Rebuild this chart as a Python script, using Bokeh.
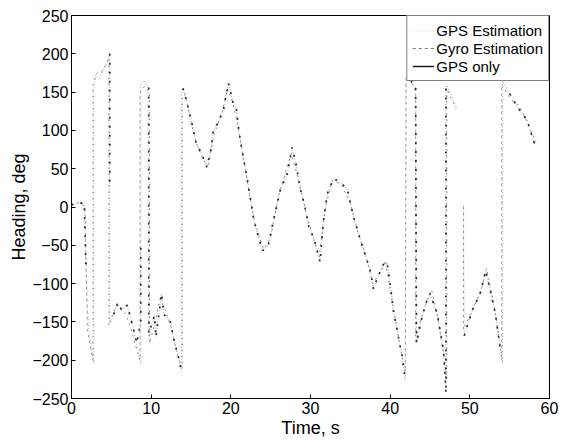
from bokeh.plotting import figure
from bokeh.models import FixedTicker, Legend, LegendItem
from bokeh.embed import file_html
from bokeh.resources import INLINE

nan = float("nan")

# ---- data ----
# GPS Estimation (light gray)
est_t = [0, 0.8, 1.6, 1.8, 2.0, 2.3, 2.8, 2.8, 3.0, 3.5, 4.0, 4.4, 4.8, 4.8, 5.3, 5.8, 6.3, 7.0, 7.6, 8.2, 8.7,
         8.7, 9.1, 9.6, 9.7, 10.4, 10.6, 11.3, 11.6, 12.4, 12.9, 13.4, 13.8, 13.8, 14.0, 14.4, 15.0, 15.6, 16.3,
         17.0, 17.5, 17.8, 18.4, 19.1, 19.7, 20.3, 20.7, 21.0, 21.4, 22.0, 22.5, 22.9, 23.5, 24.0, 24.7, 25.3,
         26.2, 27.1, 27.7, 28.2, 28.7, 29.3, 29.8, 30.4, 30.9, 31.2, 31.6, 32.1, 32.6, 32.9, 33.6, 34.6, 35.4,
         36.3, 37.1, 37.6, 37.9, 38.5, 39.2, 39.6, 40.0, 40.4, 41.0, 41.5, 41.9, 42.0, 42.5, 43.2, 43.3, 44.0,
         44.5, 45.0, 45.9, 46.7, 47.0, 47.0, 47.6, 48.3, nan, 49.2, 49.3, 50.3, 51.3, 52.0, 53.2, 53.9, 54.1,
         54.1, 55.0, 56.0, 56.6, 57.2, 58.2]
est_v = [3, 5, 5, -70, -135, -170, -205, 155, 172, 168, 180, 186, 200, -150, -140, -125, -135, -128, -152, -178, -205,
         160, 165, 155, -172, -142, -170, -113, -140, -150, -175, -195, -215, 150, 155, 140, 115, 85, 70,
         52, 75, 100, 110, 128, 162, 135, 128, 100, 74, 40, 8, -18, -40, -57, -50, -20,
         22, 44, 78, 55, 25, 0, -27, -40, -60, -72, -20, 17, 30, 37, 33, 24, -13,
         -44, -70, -87, -107, -90, -74, -72, -100, -135, -168, -195, -226, 172, 165, 156, -178, -144,
         -125, -113, -139, -187, -230, 161, 148, 126, nan, 2, -168, -135, -113, -83, -139, -191, -205,
         165, 148, 130, 122, 113, 80]

# Gyro Estimation (mid gray, dashed)
gyro_t = [0, 1.0, 1.7, 2.0, 2.5, 2.7, 2.7, 3.2, 3.8, 4.5, 4.7, 4.7, 5.5, 6.0, 6.8, 7.5, 8.3, 8.6, 8.6, 9.2, 9.8,
          9.8, 10.5, 11.1, 11.8, 12.6, 13.2, 13.9, 13.9, 14.3, 15.0, 15.8, 16.6, 17.2, 17.9, 18.8, 19.5, 20.0,
          20.6, 21.5, 22.2, 23.0, 24.1, 25.0, 26.0, 27.0, 27.6, 28.5, 29.5, 30.5, 31.1, 31.8, 32.7, 33.8, 35.0,
          36.0, 37.0, 37.8, 38.8, 39.4, 40.2, 41.2, 41.9, 42.0, 42.8, 43.2, 43.2, 44.2, 45.2, 46.0, 46.8, 47.1,
          47.1, 47.8, 48.4, nan, 49.2, 49.2, 50.5, 51.5, 52.1, 53.0, 53.8, 54.0, 54.0, 55.2, 56.2, 57.0, 58.3]
gyro_v = [2, 6, 0, -160, -190, -200, 160, 175, 176, 190, 195, -155, -130, -128, -140, -160, -190, -200, 150, 158, 150,
          -178, -150, -120, -135, -160, -190, -210, 145, 148, 110, 80, 60, 55, 95, 120, 150, 145,
          120, 70, 25, -20, -55, -40, 15, 50, 70, 35, -10, -45, -65, -5, 35, 30, 5,
          -35, -65, -100, -85, -70, -120, -180, -215, 170, 160, 150, -170, -135, -108, -145, -200, -225,
          155, 138, 130, nan, 0, -160, -130, -105, -80, -125, -180, -200, 160, 140, 132, 115, 85]

# GPS only (dark)
gps_t = [0, 0.8, 1.6, 1.8, nan, 4.8, 4.8, nan, 5.3, 5.8, 6.3, 7.0, 7.6, 8.2, 8.7, 8.7, nan, 9.7, 9.7, 10.4, 10.6,
         11.3, 11.6, 12.4, 12.9, 13.4, 13.8, nan, 14.0, 14.4, 15.0, 15.6, 16.3, 17.0, 17.5, 17.8, 18.4, 19.1,
         19.7, 20.3, 20.7, 21.0, 21.4, 22.0, 22.5, 22.9, 23.5, 24.0, 24.7, 25.3, 26.2, 27.1, 27.7, 28.2, 28.7,
         29.3, 29.8, 30.4, 30.9, 31.2, 31.6, 32.1, 32.6, 32.9, 33.6, 34.6, 35.4, 36.3, 37.1, 37.6, 37.9, 38.5,
         39.2, 39.6, 40.0, 40.4, 41.0, 41.5, 41.9, nan, 42.6, 43.2, 43.3, 44.0, 44.5, 45.0, 45.9, 46.7, 47.0,
         47.0, nan, 49.3, 50.3, 51.3, 52.0, 53.2, 53.9, nan, 55.0, 56.0, 56.6, 57.2, 58.2]
gps_v = [3, 5, 5, -75, nan, 200, 25, nan, -140, -125, -135, -128, -152, -178, -148, -48, nan, 156, -165, -142, -170,
         -113, -140, -150, -175, -195, -215, nan, 155, 140, 115, 85, 70, 52, 75, 100, 110, 128,
         162, 135, 128, 100, 74, 40, 8, -18, -40, -57, -50, -20, 22, 44, 78, 55, 25,
         0, -27, -40, -60, -72, -20, 17, 30, 37, 33, 24, -13, -44, -70, -87, -107, -90,
         -74, -72, -100, -135, -168, -195, -226, nan, 165, 156, -178, -144, -125, -113, -139, -187, -243,
         161, nan, -168, -135, -113, -83, -139, -191, nan, 148, 130, 122, 113, 80]

x_ticks = [0, 10, 20, 30, 40, 50, 60]
y_ticks = [-250, -200, -150, -100, -50, 0, 50, 100, 150, 200, 250]
series_names = ["GPS Estimation", "Gyro Estimation", "GPS only"]

FONT = "Liberation Sans"

p = figure(width=565, height=441, x_range=(0, 60), y_range=(-250, 250),
           output_backend="svg", toolbar_location=None,
           min_border_left=71, min_border_right=16, min_border_top=15, min_border_bottom=43)

p.grid.visible = False
p.outline_line_color = "black"
p.outline_line_width = 1
p.background_fill_color = "white"
p.border_fill_color = "white"

p.xaxis.ticker = FixedTicker(ticks=x_ticks)
p.yaxis.ticker = FixedTicker(ticks=y_ticks)
for ax in (p.xaxis[0], p.yaxis[0]):
    ax.major_tick_in = 4
    ax.major_tick_out = 0
    ax.minor_tick_line_color = None
    ax.axis_line_color = "black"
    ax.major_tick_line_color = "black"
    ax.major_label_text_font = FONT
    ax.major_label_text_font_size = "16px"
    ax.major_label_text_color = "black"
    ax.axis_label_text_font = FONT
    ax.axis_label_text_font_size = "18px"
    ax.axis_label_text_font_style = "normal"
    ax.axis_label_text_color = "black"
p.xaxis.axis_label = "Time, s"
p.yaxis.axis_label = "Heading, deg"
p.xaxis.major_label_standoff = 3
p.xaxis.axis_label_standoff = 1
p.yaxis.major_label_standoff = 3
p.yaxis.axis_label_standoff = 0

# data lines
p.line(est_t, est_v, line_color="#b8b8b8", line_width=1.2, line_dash="1 2")
p.line(gyro_t, gyro_v, line_color="#8c8c8c", line_width=1.0, line_dash="2 4")
p.line(gps_t, gps_v, line_color="#2a2a2a", line_width=1.7, line_dash="2 7")

# legend-only renderers (placed outside the visible range)
off_x = [-10, -9]
off_y = [0, 0]
r1 = p.line(off_x, off_y, line_color="#d0d0d0", line_width=1, line_dash="1 3")
r2 = p.line(off_x, off_y, line_color="#777777", line_width=1, line_dash="3 3")
r3 = p.line(off_x, off_y, line_color="#1e1e1e", line_width=1.5)

legend = Legend(items=[LegendItem(label=series_names[0], renderers=[r1]),
                       LegendItem(label=series_names[1], renderers=[r2]),
                       LegendItem(label=series_names[2], renderers=[r3])],
                location="top_right", margin=0, padding=5, spacing=0,
                label_height=18, glyph_height=18, glyph_width=22, label_standoff=2,
                label_text_font=FONT, label_text_font_size="15px", label_text_color="black",
                border_line_color="black", border_line_width=1, background_fill_alpha=1.0)
p.add_layout(legend, "center")

open("out.html", "w").write(file_html(p, INLINE))
